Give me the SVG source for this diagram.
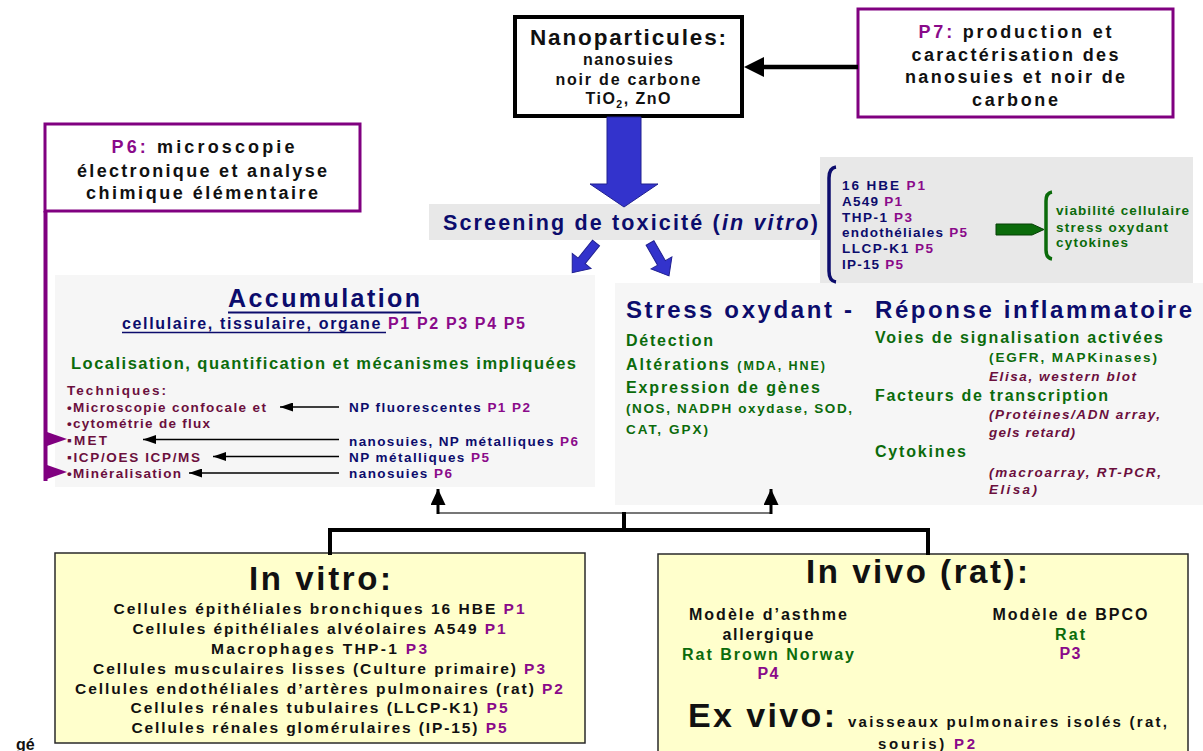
<svg xmlns="http://www.w3.org/2000/svg" width="1203" height="751" viewBox="0 0 1203 751">
<style>
text{font-family:"Liberation Sans",Arial,Helvetica,sans-serif;font-weight:bold}
.nv{fill:#0c0c6c}.pu{fill:#8a0a8a}.gr{fill:#0b6b0b}.mr{fill:#6b0f3d}.bk{fill:#111}
.it{font-style:italic}
.pbox{fill:#fff;stroke:#800080;stroke-width:3}
.thin{stroke:#000;stroke-width:1.4;fill:none;marker-end:url(#ah)}
.thick{stroke:#000;stroke-width:4;fill:none}
.blue{fill:#3333cc;stroke:#202090;stroke-width:1}
.yel{fill:#ffffcc;stroke:#2a2a2a;stroke-width:1.5}
</style>
<defs>
<marker id="ah" viewBox="0 0 13 9" refX="13" refY="4.5" markerWidth="13" markerHeight="9" markerUnits="userSpaceOnUse" orient="auto">
<path d="M0,0 L13,4.5 L0,9 z" fill="#000"/>
</marker>
<marker id="up" viewBox="0 0 16 15" refX="16" refY="7.5" markerWidth="16" markerHeight="15" markerUnits="userSpaceOnUse" orient="auto">
<path d="M0,0 L16,7.5 L0,15 z" fill="#000"/>
</marker>
</defs>
<rect width="1203" height="751" fill="#fff"/>

<g id="screening-panel">
<rect x="820" y="157" width="373" height="126" fill="#e8e8e8"/>
</g>

<g id="accumulation">
<rect x="55" y="275" width="540" height="212" fill="#f6f6f6"/>
<text class="nv" x="228" y="307" font-size="25" textLength="192" lengthAdjust="spacing">Accumulation</text>
<line x1="228" y1="312.5" x2="421" y2="312.5" stroke="#0c0c6c" stroke-width="2.2"/>
<text x="122" y="329" font-size="16" textLength="403" lengthAdjust="spacing"><tspan class="nv">cellulaire, tissulaire, organe </tspan><tspan class="pu">P1 P2 P3 P4 P5</tspan></text>
<line x1="122" y1="332.5" x2="386" y2="332.5" stroke="#0c0c6c" stroke-width="1.6"/>
<text class="gr" x="71" y="369" font-size="16.5" textLength="505" lengthAdjust="spacing">Localisation, quantification et mécanismes impliquées</text>
<text class="mr" x="67" y="395" font-size="13.5" textLength="99" lengthAdjust="spacing">Techniques:</text>
<text class="mr" x="67" y="412" font-size="13.5" textLength="199" lengthAdjust="spacing">•Microscopie confocale et</text>
<text class="mr" x="67" y="428" font-size="13.5" textLength="143" lengthAdjust="spacing">•cytométrie de flux</text>
<text class="mr" x="67" y="445" font-size="13.5" textLength="40" lengthAdjust="spacing">▪MET</text>
<text class="mr" x="67" y="462" font-size="13.5" textLength="133" lengthAdjust="spacing">▪ICP/OES ICP/MS</text>
<text class="mr" x="67" y="478" font-size="13.5" textLength="114" lengthAdjust="spacing">•Minéralisation</text>
<text x="349" y="412" font-size="13.5" textLength="181" lengthAdjust="spacing"><tspan class="nv">NP fluorescentes </tspan><tspan class="pu">P1 P2</tspan></text>
<text x="349" y="446" font-size="13.5" textLength="229" lengthAdjust="spacing"><tspan class="nv">nanosuies, NP métalliques </tspan><tspan class="pu">P6</tspan></text>
<text x="349" y="462" font-size="13.5" textLength="140" lengthAdjust="spacing"><tspan class="nv">NP métalliques </tspan><tspan class="pu">P5</tspan></text>
<text x="349" y="478" font-size="13.5" textLength="103" lengthAdjust="spacing"><tspan class="nv">nanosuies </tspan><tspan class="pu">P6</tspan></text>
</g>

<g id="stress-inflammation">
<rect x="615" y="283" width="588" height="222" fill="#f6f6f6"/>
<text class="nv" x="626" y="318" font-size="24" textLength="226" lengthAdjust="spacing">Stress oxydant -</text>
<text class="nv" x="875" y="318" font-size="24" textLength="317" lengthAdjust="spacing">Réponse inflammatoire</text>
<text class="gr" x="626" y="346" font-size="16" textLength="87" lengthAdjust="spacing">Détection</text>
<text class="gr" x="626" y="370" font-size="16" textLength="199" lengthAdjust="spacing">Altérations <tspan font-size="12.5">(MDA, HNE)</tspan></text>
<text class="gr" x="626" y="393" font-size="16" textLength="194" lengthAdjust="spacing">Expression de gènes</text>
<text class="gr" x="626" y="413" font-size="13.5" textLength="226" lengthAdjust="spacing">(NOS, NADPH oxydase, SOD,</text>
<text class="gr" x="626" y="434" font-size="13.5" textLength="82" lengthAdjust="spacing">CAT, GPX)</text>
<text class="gr" x="875" y="343" font-size="16" textLength="288" lengthAdjust="spacing">Voies de signalisation activées</text>
<text class="gr" x="989" y="362" font-size="13.5" textLength="168" lengthAdjust="spacing">(EGFR, MAPKinases)</text>
<text class="mr it" x="989" y="381" font-size="13.5" textLength="147" lengthAdjust="spacing">Elisa, western blot</text>
<text class="gr" x="875" y="401" font-size="16" textLength="233" lengthAdjust="spacing">Facteurs de transcription</text>
<text class="mr it" x="989" y="419" font-size="13.5" textLength="171" lengthAdjust="spacing">(Protéines/ADN array,</text>
<text class="mr it" x="989" y="437" font-size="13.5" textLength="86" lengthAdjust="spacing">gels retard)</text>
<text class="gr" x="875" y="457" font-size="16" textLength="91" lengthAdjust="spacing">Cytokines</text>
<text class="mr it" x="989" y="477" font-size="13.5" textLength="172" lengthAdjust="spacing">(macroarray, RT-PCR,</text>
<text class="mr it" x="989" y="494" font-size="13.5" textLength="48" lengthAdjust="spacing">Elisa)</text>
</g>

<g id="nanoparticules">
<rect x="515" y="17" width="227" height="99" fill="#fff" stroke="#000" stroke-width="4"/>
<text class="bk" x="628" y="45" font-size="22.5" text-anchor="middle" textLength="196" lengthAdjust="spacing">Nanoparticules:</text>
<text class="bk" x="628" y="65" font-size="16" text-anchor="middle" textLength="90" lengthAdjust="spacing">nanosuies</text>
<text class="bk" x="628" y="85" font-size="16" text-anchor="middle" textLength="145" lengthAdjust="spacing">noir de carbone</text>
<text class="bk" x="628" y="104" font-size="16" text-anchor="middle" textLength="85" lengthAdjust="spacing">TiO<tspan font-size="10.5" dy="4">2</tspan><tspan dy="-4">, ZnO</tspan></text>
</g>

<g id="p7">
<rect class="pbox" x="858" y="9" width="315" height="108"/>
<text x="1015" y="38" font-size="18" text-anchor="middle" textLength="193" lengthAdjust="spacing"><tspan class="pu">P7: </tspan><tspan class="bk">production et</tspan></text>
<text class="bk" x="1015" y="61" font-size="18" text-anchor="middle" textLength="207" lengthAdjust="spacing">caractérisation des</text>
<text class="bk" x="1015" y="83" font-size="18" text-anchor="middle" textLength="220" lengthAdjust="spacing">nanosuies et noir de</text>
<text class="bk" x="1015" y="106" font-size="18" text-anchor="middle" textLength="86" lengthAdjust="spacing">carbone</text>
</g>

<g id="p6">
<rect class="pbox" x="45" y="124" width="315" height="87"/>
<text x="203" y="153" font-size="18" text-anchor="middle" textLength="183" lengthAdjust="spacing"><tspan class="pu">P6: </tspan><tspan class="bk">microscopie</tspan></text>
<text class="bk" x="202" y="177" font-size="18" text-anchor="middle" textLength="250" lengthAdjust="spacing">électronique et analyse</text>
<text class="bk" x="202" y="199" font-size="18" text-anchor="middle" textLength="232" lengthAdjust="spacing">chimique élémentaire</text>
</g>

<g id="screening">
<rect x="429" y="204" width="392" height="36" fill="#e8e8e8"/>
<text class="nv" x="443" y="230" font-size="21.5" textLength="375" lengthAdjust="spacing">Screening de toxicité (<tspan class="it">in vitro</tspan>)</text>
</g>

<g id="cell-lines">
<path d="M836,167 Q829,168 829,178 L829,271 Q829,281 836,282" fill="none" stroke="#0c0c6c" stroke-width="3.5"/>
<text x="842" y="190" font-size="13.5" textLength="83" lengthAdjust="spacing"><tspan class="nv">16 HBE </tspan><tspan class="pu">P1</tspan></text>
<text x="842" y="206" font-size="13.5" textLength="60" lengthAdjust="spacing"><tspan class="nv">A549 </tspan><tspan class="pu">P1</tspan></text>
<text x="842" y="222" font-size="13.5" textLength="70" lengthAdjust="spacing"><tspan class="nv">THP-1 </tspan><tspan class="pu">P3</tspan></text>
<text x="842" y="237" font-size="13.5" textLength="125" lengthAdjust="spacing"><tspan class="nv">endothéliales </tspan><tspan class="pu">P5</tspan></text>
<text x="842" y="253" font-size="13.5" textLength="91" lengthAdjust="spacing"><tspan class="nv">LLCP-K1 </tspan><tspan class="pu">P5</tspan></text>
<text x="842" y="269" font-size="13.5" textLength="61" lengthAdjust="spacing"><tspan class="nv">IP-15 </tspan><tspan class="pu">P5</tspan></text>
</g>

<g id="endpoints">
<path d="M1052,192 Q1046,193 1046,201 L1046,250 Q1046,258 1052,259" fill="none" stroke="#0b6b0b" stroke-width="3.5"/>
<text class="gr" x="1056" y="215" font-size="13.5" textLength="133" lengthAdjust="spacing">viabilité cellulaire</text>
<text class="gr" x="1056" y="232" font-size="13.5" textLength="112" lengthAdjust="spacing">stress oxydant</text>
<text class="gr" x="1056" y="247" font-size="13.5" textLength="72" lengthAdjust="spacing">cytokines</text>
</g>

<g id="in-vitro">
<rect class="yel" x="55" y="553" width="530" height="190"/>
<text class="bk" x="320" y="590" font-size="33" text-anchor="middle" textLength="142" lengthAdjust="spacing">In vitro:</text>
<text x="319" y="614" font-size="15.5" text-anchor="middle" textLength="411" lengthAdjust="spacing"><tspan class="bk">Cellules épithéliales bronchiques 16 HBE </tspan><tspan class="pu">P1</tspan></text>
<text x="319" y="634" font-size="15.5" text-anchor="middle" textLength="373" lengthAdjust="spacing"><tspan class="bk">Cellules épithéliales alvéolaires A549 </tspan><tspan class="pu">P1</tspan></text>
<text x="319" y="654" font-size="15.5" text-anchor="middle" textLength="216" lengthAdjust="spacing"><tspan class="bk">Macrophages THP-1 </tspan><tspan class="pu">P3</tspan></text>
<text x="319" y="674" font-size="15.5" text-anchor="middle" textLength="452" lengthAdjust="spacing"><tspan class="bk">Cellules musculaires lisses (Culture primaire) </tspan><tspan class="pu">P3</tspan></text>
<text x="319" y="694" font-size="15.5" text-anchor="middle" textLength="488" lengthAdjust="spacing"><tspan class="bk">Cellules endothéliales d’artères pulmonaires (rat) </tspan><tspan class="pu">P2</tspan></text>
<text x="319" y="713" font-size="15.5" text-anchor="middle" textLength="377" lengthAdjust="spacing"><tspan class="bk">Cellules rénales tubulaires (LLCP-K1) </tspan><tspan class="pu">P5</tspan></text>
<text x="319" y="733" font-size="15.5" text-anchor="middle" textLength="375" lengthAdjust="spacing"><tspan class="bk">Cellules rénales glomérulaires (IP-15) </tspan><tspan class="pu">P5</tspan></text>
</g>

<g id="in-vivo">
<rect class="yel" x="658" y="554" width="530" height="210"/>
<text class="bk" x="917" y="583" font-size="33" text-anchor="middle" textLength="222" lengthAdjust="spacing">In vivo (rat):</text>
<text class="bk" x="768" y="620" font-size="16" text-anchor="middle" textLength="158" lengthAdjust="spacing">Modèle d’asthme</text>
<text class="bk" x="768" y="640" font-size="16" text-anchor="middle" textLength="91" lengthAdjust="spacing">allergique</text>
<text class="gr" x="768" y="660" font-size="16" text-anchor="middle" textLength="172" lengthAdjust="spacing">Rat Brown Norway</text>
<text class="pu" x="768" y="679" font-size="16" text-anchor="middle" textLength="21" lengthAdjust="spacing">P4</text>
<text class="bk" x="1070" y="620" font-size="16" text-anchor="middle" textLength="155" lengthAdjust="spacing">Modèle de BPCO</text>
<text class="gr" x="1070" y="640" font-size="16" text-anchor="middle" textLength="30" lengthAdjust="spacing">Rat</text>
<text class="pu" x="1070" y="659" font-size="16" text-anchor="middle" textLength="21" lengthAdjust="spacing">P3</text>
<text class="bk" x="688" y="727" font-size="34" textLength="147" lengthAdjust="spacing">Ex vivo:</text>
<text class="bk" x="848" y="727" font-size="15" textLength="319" lengthAdjust="spacing">vaisseaux pulmonaires isolés (rat,</text>
<text x="878" y="749" font-size="15" textLength="97" lengthAdjust="spacing"><tspan class="bk">souris)  </tspan><tspan class="pu">P2</tspan></text>
</g>

<g id="stray">
<text x="16" y="750" font-family="Liberation Serif, serif" font-size="16" fill="#111">gé</text>
</g>

<g id="connectors">
<line x1="858" y1="67" x2="762" y2="67" stroke="#000" stroke-width="4.5"/>
<polygon points="744,67 764,57 764,77" fill="#000"/>
<polygon class="blue" points="607,117 641,117 641,184 658,184 624,207 590,184 607,184"/>
<polygon class="blue" transform="translate(596,243) rotate(38.7)" points="-4.5,0 4.5,0 4.5,23 12,23 0,38 -12,23 -4.5,23"/>
<polygon class="blue" transform="translate(650,243) rotate(-30)" points="-4.5,0 4.5,0 4.5,23 12,23 0,38 -12,23 -4.5,23"/>
<polygon points="996,224 1032,224 1044,229.5 1032,235 996,235" fill="#0b6b0b" stroke="#064006" stroke-width="1"/>
<line x1="45.5" y1="211" x2="45.5" y2="481" stroke="#800080" stroke-width="4"/>
<polygon points="47,432 67,439 47,446" fill="#800080"/>
<polygon points="47,465 67,472 47,479" fill="#800080"/>
<line class="thin" x1="339" y1="407" x2="280" y2="407"/>
<line class="thin" x1="339" y1="439.5" x2="143" y2="439.5"/>
<line class="thin" x1="339" y1="456.5" x2="213" y2="456.5"/>
<line class="thin" x1="339" y1="473" x2="189" y2="473"/>
<line x1="438" y1="513" x2="771" y2="513" stroke="#777" stroke-width="2"/>
<line x1="438" y1="514" x2="438" y2="489" stroke="#000" stroke-width="3" marker-end="url(#up)"/>
<line x1="771" y1="514" x2="771" y2="489" stroke="#000" stroke-width="3" marker-end="url(#up)"/>
<line class="thick" x1="624" y1="512" x2="624" y2="530"/>
<polyline class="thick" points="330,555 330,530 928,530 928,555"/>
</g>
</svg>
